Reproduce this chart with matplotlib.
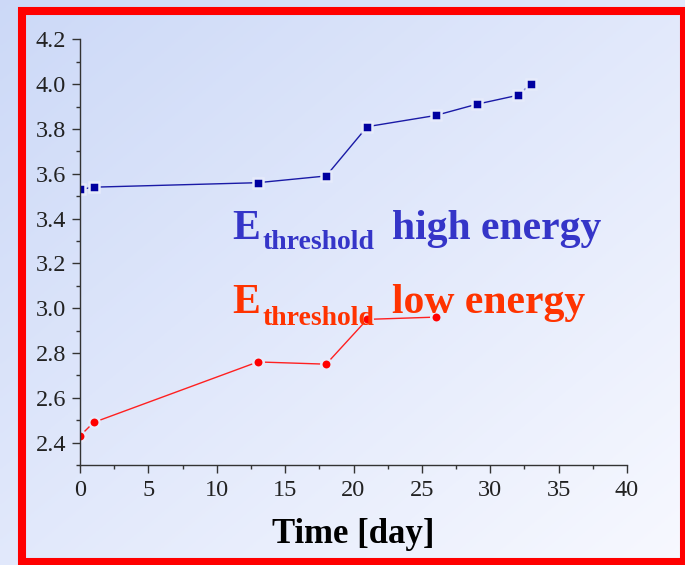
import numpy as np
import matplotlib.pyplot as plt
from matplotlib.patches import Rectangle
from matplotlib.ticker import MultipleLocator

# data
days_high = [0, 1, 13, 18, 21, 26, 29, 32, 33]
e_high = [3.53, 3.54, 3.56, 3.59, 3.81, 3.86, 3.91, 3.95, 4.00]

days_low = [0, 1, 13, 18, 21, 26]
e_low = [2.43, 2.49, 2.76, 2.75, 2.95, 2.96]

x_ticks = [0, 5, 10, 15, 20, 25, 30, 35, 40]
y_ticks = [2.4, 2.6, 2.8, 3.0, 3.2, 3.4, 3.6, 3.8, 4.0, 4.2]

plt.rcParams['font.family'] = ['Liberation Serif', 'DejaVu Serif']

W, H = 685, 565
fig = plt.figure(figsize=(W / 100, H / 100), dpi=100)

# gradient background over the whole figure
bg = fig.add_axes([0, 0, 1, 1], zorder=-10)
gx, gy = np.meshgrid(np.linspace(0, 1, 200), np.linspace(0, 1, 200))
t = np.clip((gx + gy) / 2, 0, 1)
c0 = np.array([0.80, 0.85, 0.97])
c1 = np.array([0.97, 0.975, 1.0])
img = c0[None, None, :] * (1 - t[..., None]) + c1[None, None, :] * t[..., None]
bg.imshow(img, extent=[0, 1, 0, 1], aspect='auto', origin='upper')
bg.axis('off')

# red frame
fig.patches.append(Rectangle((22 / W, 3 / H), (684 - 22) / W, (554 - 3) / H,
                             transform=fig.transFigure, fill=False,
                             edgecolor='#ff0000', linewidth=5.8))

ax = fig.add_axes([80 / W, 1 - 465 / H, (627 - 80) / W, (465 - 39.3) / H])
ax.patch.set_alpha(0)

halo = '#e6ebfb'
ax.plot(days_high, e_high, '-', color='#1a1aa6', lw=1.0, marker='s', ms=7,
        mfc='#0000a0', mec=halo, mew=1.8)
ax.plot(days_low, e_low, '-', color='#ff2020', lw=1.0, marker='o', ms=7.5,
        mfc='#ff0000', mec=halo, mew=1.8)

ax.set_xlim(0, 40)
ax.set_ylim(2.3, 4.2)
ax.set_xticks(x_ticks)
ax.set_yticks(y_ticks)
ax.set_yticklabels([f'{v:.1f}' for v in y_ticks])
ax.xaxis.set_minor_locator(MultipleLocator(2.5))
ax.yaxis.set_minor_locator(MultipleLocator(0.1))

for s in ['top', 'right']:
    ax.spines[s].set_visible(False)
for s in ['left', 'bottom']:
    ax.spines[s].set_color('#333333')
    ax.spines[s].set_linewidth(1.0)

ax.tick_params(which='major', direction='out', length=6, width=1.0,
               color='#333333', labelsize=17.5, labelcolor='#222222')
ax.tick_params(axis='x', which='major', pad=5)
ax.tick_params(axis='y', which='major', pad=4)
ax.tick_params(which='minor', direction='out', length=3, width=1.0, color='#333333')

ax.set_xlabel('Time [day]', fontsize=25, fontweight='bold', labelpad=12)

# labels: big E, smaller subscript, then the rest
blue_txt = '#3535c8'
red_txt = '#ff3300'
ax.text(11.1, 3.307, 'E', color=blue_txt, fontsize=30, fontweight='bold', va='baseline')
ax.text(13.36, 3.263, 'threshold', color=blue_txt, fontsize=20, fontweight='bold', va='baseline')
ax.text(22.79, 3.307, 'high energy', color=blue_txt, fontsize=30, fontweight='bold', va='baseline')
ax.text(11.1, 2.977, 'E', color=red_txt, fontsize=30, fontweight='bold', va='baseline')
ax.text(13.36, 2.925, 'threshold', color=red_txt, fontsize=20, fontweight='bold', va='baseline')
ax.text(22.79, 2.977, 'low energy', color=red_txt, fontsize=30, fontweight='bold', va='baseline')

fig.savefig('out.png', dpi=100)
